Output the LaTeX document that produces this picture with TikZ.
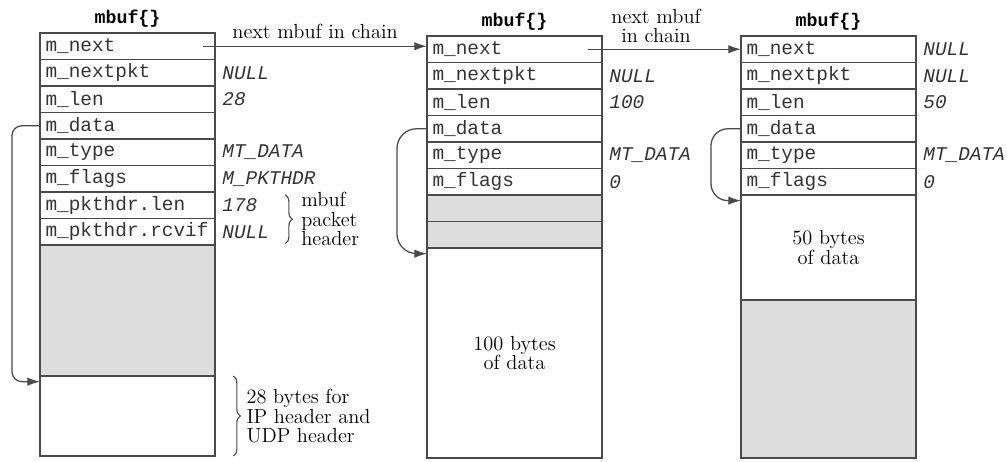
\documentclass[tikz,border=0pt]{standalone}
\usepackage{fontspec}
\setmonofont{Liberation Mono}
\usetikzlibrary{positioning,decorations.pathreplacing,arrows.meta}

\definecolor{boxline}{HTML}{4A4A4A}
\definecolor{unused}{HTML}{DDDDDD}

\tikzset{
  field/.style={draw=boxline, line width=0.9pt, outer sep=0pt, inner sep=0pt,
    minimum width=4.375cm, minimum height=0.6625cm, text width=4.1cm,
    align=left, anchor=north west, text=black!80,
    font=\fontsize{13.8}{15}\selectfont\ttfamily},
  area/.style={draw=boxline, line width=0.9pt, outer sep=0pt, inner sep=0pt,
    minimum width=4.375cm, anchor=north west, align=center,
    font=\fontsize{14.5}{14}\selectfont},
  val/.style={anchor=west, inner sep=0pt, text=black!80,
    font=\fontsize{13.8}{15}\selectfont\ttfamily\itshape},
  title/.style={anchor=south, inner sep=0pt, yshift=4pt,
    font=\fontsize{13}{15}\selectfont\ttfamily\bfseries},
  note/.style={inner sep=0pt, align=left, font=\fontsize{14.5}{14}\selectfont},
  ptr/.style={draw=boxline, line width=0.9pt, -{Latex[length=9pt,width=6pt]}},
  curly/.style={draw=boxline, line width=0.8pt, decorate,
    decoration={brace, amplitude=5pt}}
}

\begin{document}
\begin{tikzpicture}[x=0.025cm, y=-0.025cm]
\useasboundingbox (0,0) rectangle (1007,461);

% first mbuf (packet header)
\foreach \f [count=\i] in {m\_next,m\_nextpkt,m\_len,m\_data,m\_type,m\_flags,m\_pkthdr.len,m\_pkthdr.rcvif}
  \node[field] (a\i) at (40,{33+(\i-1)*26.5}) {\f};
\node[area, fill=unused, minimum height=3.275cm] (agray) at (a8.south west) {};
\node[area, minimum height=2cm] (adata) at (agray.south west) {};
\node[title] (atitle) at (a1.north) {mbuf\{\}};

\node[val] (av2) at ([xshift=5pt]a2.east) {NULL};
\node[val] (av3) at ([xshift=5pt]a3.east) {28};
\node[val] (av5) at ([xshift=5pt]a5.east) {MT\_DATA};
\node[val] (av6) at ([xshift=5pt]a6.east) {M\_PKTHDR};
\node[val] (av7) at ([xshift=5pt]a7.east) {178};
\node[val] (av8) at ([xshift=5pt]a8.east) {NULL};

% second mbuf
\foreach \f [count=\i] in {m\_next,m\_nextpkt,m\_len,m\_data,m\_type,m\_flags}
  \node[field] (b\i) at (427,{36+(\i-1)*26.5}) {\f};
\node[area, fill=unused, minimum height=0.6625cm] (bgray1) at (b6.south west) {};
\node[area, fill=unused, minimum height=0.6625cm] (bgray2) at (bgray1.south west) {};
\node[area, minimum height=5.25cm] (bdata) at (bgray2.south west) {100 bytes\\of data};
\node[title] (btitle) at (b1.north) {mbuf\{\}};

\node[val] (bv2) at ([xshift=5pt]b2.east) {NULL};
\node[val] (bv3) at ([xshift=5pt]b3.east) {100};
\node[val] (bv5) at ([xshift=5pt]b5.east) {MT\_DATA};
\node[val] (bv6) at ([xshift=5pt]b6.east) {0};

% third mbuf
\foreach \f [count=\i] in {m\_next,m\_nextpkt,m\_len,m\_data,m\_type,m\_flags}
  \node[field] (c\i) at (741,{36+(\i-1)*26.5}) {\f};
\node[area, minimum height=2.625cm] (cdata) at (c6.south west) {50 bytes\\of data};
\node[area, fill=unused, minimum height=3.95cm] (cgray) at (cdata.south west) {};
\node[title] (ctitle) at (c1.north) {mbuf\{\}};

\node[val] (cv1) at ([xshift=5pt]c1.east) {NULL};
\node[val] (cv2) at ([xshift=5pt]c2.east) {NULL};
\node[val] (cv3) at ([xshift=5pt]c3.east) {50};
\node[val] (cv5) at ([xshift=5pt]c5.east) {MT\_DATA};
\node[val] (cv6) at ([xshift=5pt]c6.east) {0};

% chain pointers
\draw[ptr] ([xshift=-8.5pt]a1.east) -- (a1.east -| b1.west)
  node[note, midway, above=5pt] (chain1) {next mbuf in chain};
\draw[ptr] ([xshift=-10pt]b1.east) -- (b1.east -| c1.west)
  node[note, midway, above=4pt, align=center, xshift=-6pt] (chain2) {next mbuf\\in chain};

% data pointers
\draw[ptr, rounded corners=7pt] (a4.west) -- ++(-28,0) |- ([yshift=-4pt]adata.north west);
\draw[ptr, rounded corners=14pt] (b4.west) -- ++(-30,0) |- ([yshift=-4pt]bdata.north west);
\draw[ptr, rounded corners=12pt] (c4.west) -- ++(-30,0) |- ([yshift=-4pt]cdata.north west);

% braces
\draw[curly] ([xshift=50pt,yshift=-2pt]a7.north east) -- ([xshift=50pt,yshift=1pt]a8.south east)
  node[note, midway, right=11pt] (hdrnote) {mbuf\\packet\\header};
\draw[curly] ([xshift=13pt]adata.north east) -- ([xshift=13pt]adata.south east)
  node[note, midway, right=9pt] (udpnote) {28 bytes for\\IP header and\\UDP header};

\end{tikzpicture}
\end{document}
